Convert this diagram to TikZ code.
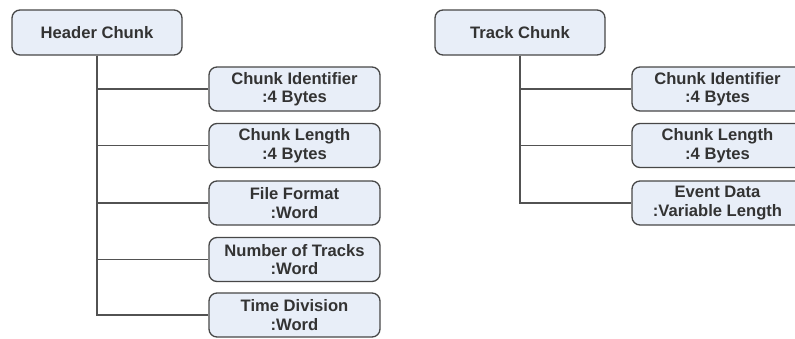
\documentclass[tikz,border=0pt]{standalone}
\usepackage{fontspec}
\setmainfont{Liberation Sans}
\begin{document}
\begin{tikzpicture}[x=1pt,y=1pt,
  box/.style={draw=black!72, line width=1.3pt, fill={rgb,255:red,232;green,238;blue,248},
    rounded corners=8pt, minimum width=171pt, minimum height=44pt, inner sep=0pt,
    align=center, text=black!80, font=\fontsize{16.6}{18.5}\selectfont\bfseries},
  link/.style={draw=black!68, line width=1.6pt}]
\useasboundingbox (0,0) rectangle (795,-338);

% header chunk tree
\node[box, minimum width=170pt, minimum height=45pt] (hc) at (97,-32.5) {Header Chunk};
\node[box] (h1) at (294.5,-89) {Chunk Identifier\\:4 Bytes};
\node[box] (h2) at (294.5,-145.5) {Chunk Length\\:4 Bytes};
\node[box] (h3) at (294.5,-203) {File Format\\:Word};
\node[box] (h4) at (294.5,-259.5) {Number of Tracks\\:Word};
\node[box] (h5) at (294.5,-315) {Time Division\\:Word};

% track chunk tree
\node[box, minimum width=170pt, minimum height=45pt] (tc) at (520,-32.5) {Track Chunk};
\node[box] (t1) at (717.5,-89) {Chunk Identifier\\:4 Bytes};
\node[box] (t2) at (717.5,-145.5) {Chunk Length\\:4 Bytes};
\node[box] (t3) at (717.5,-203) {Event Data\\:Variable Length};

% connectors
\foreach \c in {h1,h2,h3,h4,h5} \draw[link] (hc.south) |- (\c.west);
\foreach \c in {t1,t2,t3} \draw[link] (tc.south) |- (\c.west);
\end{tikzpicture}
\end{document}
